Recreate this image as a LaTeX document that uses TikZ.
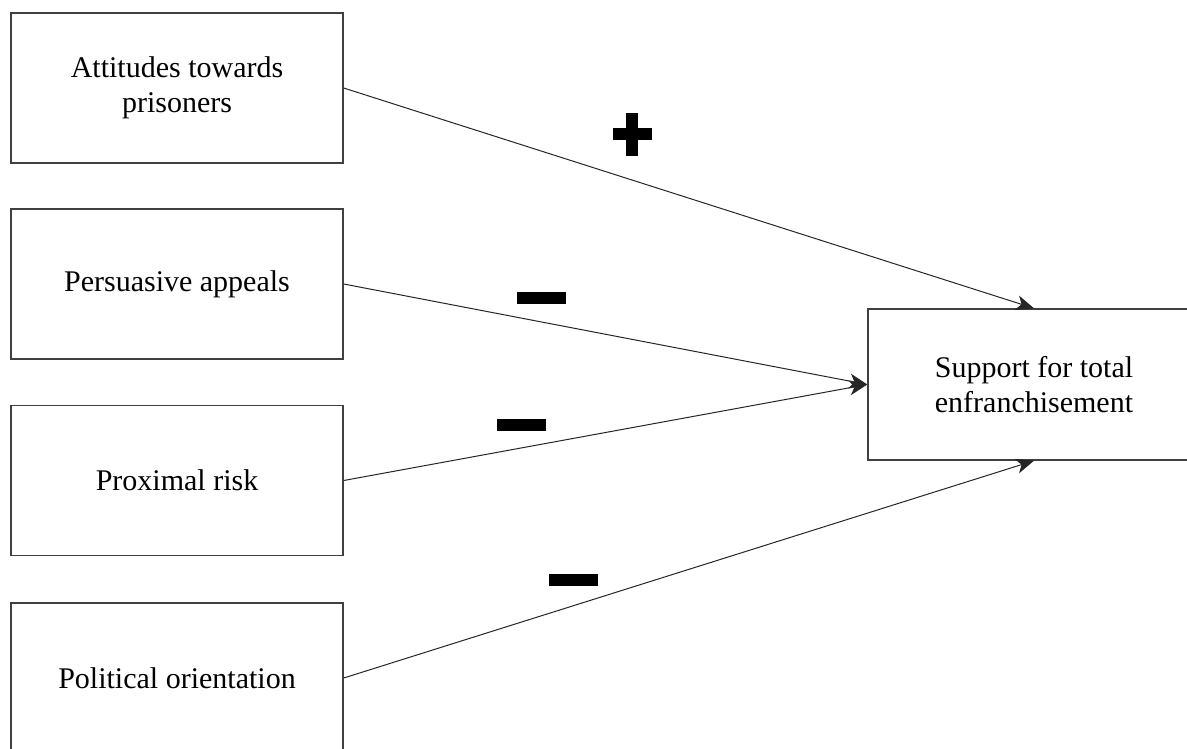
\documentclass[tikz,border=0pt]{standalone}
\usepackage{fontspec}
\setmainfont{Liberation Serif}
\usetikzlibrary{arrows.meta}
\begin{document}
\begin{tikzpicture}[x=1pt,y=-1pt,
  varbox/.style={draw=black!75, line width=1.4pt, rectangle, minimum width=332pt, minimum height=150pt, align=center, inner sep=0pt,
    font=\fontsize{30}{35}\selectfont},
  link/.style={draw=black!85, line width=1pt, -{Stealth[length=18pt,width=15pt,inset=5pt]}},
  sign/.style={fill=black}]
\useasboundingbox (0,0) rectangle (1187,748);
\clip (0,0) rectangle (1187,748);
\node[varbox] (att) at (177,88) {Attitudes towards\\prisoners};
\node[varbox] (per) at (177,284) {Persuasive appeals};
\node[varbox] (pro) at (177,480.5) {Proximal risk};
\node[varbox] (pol) at (177,678) {Political orientation};
\node[varbox, minimum height=151pt] (sup) at (1034,384.5) {Support for total\\enfranchisement};
\draw[link] (att.east) -- (sup.north);
\draw[link] (per.east) -- (sup.west);
\draw[link] (pro.east) -- (sup.west);
\draw[link] (pol.east) -- (sup.south);
% signs
\fill[sign] (612.5,127.5) rectangle (651.5,140);
\fill[sign] (625.8,112.5) rectangle (638.3,155.5);
\fill[sign] (517,292) rectangle (566,304);
\fill[sign] (497,419) rectangle (546,431);
\fill[sign] (549,574) rectangle (598,586);
\end{tikzpicture}
\end{document}
